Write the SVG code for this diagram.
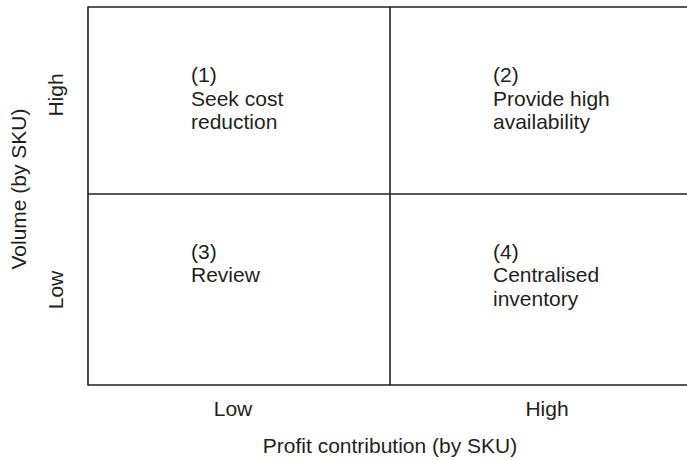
<svg xmlns="http://www.w3.org/2000/svg" width="687" height="460" viewBox="0 0 687 460">
<style>
.t{font-family:"Liberation Sans",Arial,sans-serif;font-size:21px;fill:#231f20}
.m{text-anchor:middle}
.ln{stroke:#231f20;stroke-width:1.6;fill:none}
</style>
<rect width="687" height="460" fill="#fff"/>
<g id="grid">
<path class="ln" d="M688,7H88V385H688M88,194H688M390,7V385"/>
</g>
<g id="connectors"></g>
<g id="q1"><text class="t" x="191" y="82">(1)</text><text class="t" x="191" y="105.5">Seek cost</text><text class="t" x="191" y="129">reduction</text></g>
<g id="q2"><text class="t" x="493" y="82">(2)</text><text class="t" x="493" y="105.5">Provide high</text><text class="t" x="493" y="129">availability</text></g>
<g id="q3"><text class="t" x="191" y="258.5">(3)</text><text class="t" x="191" y="282">Review</text></g>
<g id="q4"><text class="t" x="493" y="258.5">(4)</text><text class="t" x="493" y="282">Centralised</text><text class="t" x="493" y="305.5">inventory</text></g>
<g id="x-axis">
<text class="t m" x="233" y="416">Low</text>
<text class="t m" x="547" y="416">High</text>
<text class="t m" x="390" y="453">Profit contribution (by SKU)</text>
</g>
<g id="y-axis">
<text class="t m" transform="translate(63,95) rotate(-90)">High</text>
<text class="t m" transform="translate(63,290) rotate(-90)">Low</text>
<text class="t m" transform="translate(26,189) rotate(-90)">Volume (by SKU)</text>
</g>
</svg>
